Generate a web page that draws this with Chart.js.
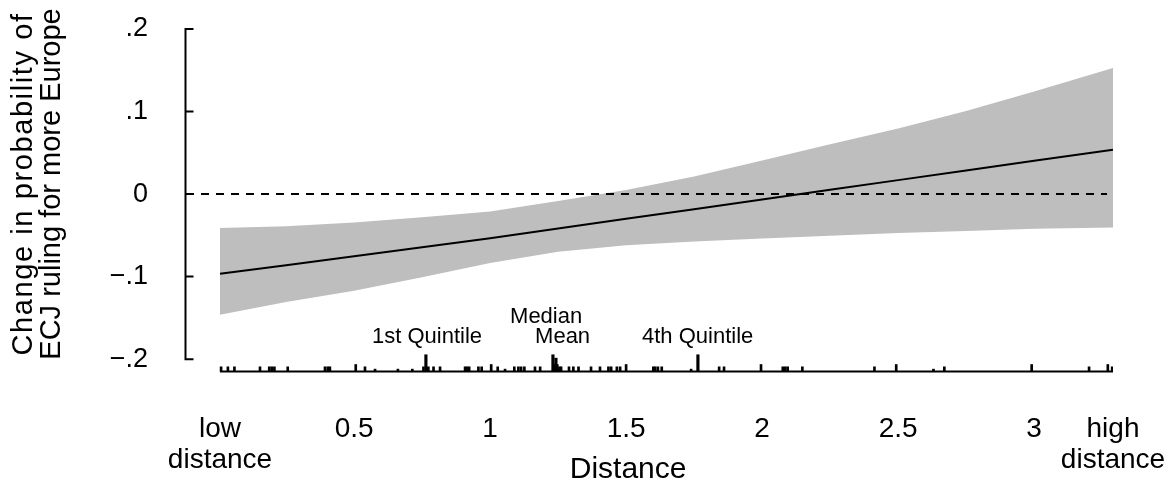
<!DOCTYPE html>
<html>
<head>
<meta charset="utf-8">
<title>Distance and ECJ rulings</title>
<script src="https://cdn.jsdelivr.net/npm/chart.js@4.4.1/dist/chart.umd.min.js"></script>
<style>
  html, body { margin: 0; padding: 0; background: #fff; }
  #wrap { width: 1169px; height: 491px; position: relative; }
</style>
</head>
<body>
<div id="wrap"><canvas id="chart"></canvas></div>
<script>
// predicted change in probability along the distance range, with 95% band
const distance = [0.007, 0.25, 0.5, 0.75, 1, 1.25, 1.5, 1.75, 2, 2.25, 2.5, 2.75, 3, 3.29];
const effect = [-0.0965, -0.0861, -0.0753, -0.0645, -0.0536, -0.0418, -0.0300, -0.0183, -0.0065, 0.0052, 0.0169, 0.0286, 0.0403, 0.0538];
const upperCI = [-0.0412, -0.0389, -0.0345, -0.0282, -0.0211, -0.0083, 0.0050, 0.0214, 0.0406, 0.0605, 0.0795, 0.1005, 0.1244, 0.1527];
const lowerCI = [-0.1462, -0.1308, -0.1171, -0.1009, -0.0836, -0.0700, -0.0620, -0.0575, -0.0537, -0.0505, -0.0472, -0.0448, -0.0420, -0.0404];

// observed distances (rug) and number of cases at each
const rugDistance = [0.011, 0.036, 0.060, 0.154, 0.188, 0.197, 0.207, 0.256, 0.393, 0.403, 0.411, 0.506, 0.540, 0.577,
  0.661, 0.714, 0.755, 0.773, 0.792, 0.816, 0.908, 0.915, 0.923, 0.957, 0.969, 1.004, 1.028, 1.055, 1.089, 1.104,
  1.114, 1.126, 1.165, 1.184, 1.236, 1.247, 1.255, 1.261, 1.290, 1.306, 1.325, 1.371, 1.404, 1.435, 1.445, 1.466,
  1.478, 1.500, 1.600, 1.607, 1.617, 1.631, 1.739, 1.842, 1.860, 1.996, 2.076, 2.085, 2.094, 2.148, 2.413, 2.493,
  2.630, 2.670, 2.991, 3.202, 3.271, 3.287];
const rugCount = [2, 2, 2, 2, 2, 2, 2, 2, 2, 2, 2, 3, 2, 1,
  1, 1, 2, 2, 2, 2, 2, 2, 2, 2, 2, 3, 2, 1, 2, 2,
  2, 2, 2, 2, 3, 3, 2, 2, 2, 2, 2, 2, 2, 2, 2, 2,
  2, 3, 2, 2, 2, 2, 1, 2, 2, 3, 2, 2, 2, 2, 2, 3,
  1, 2, 3, 2, 3, 2];

// summary statistics of distance
const statNames = ["1st Quintile", "Median", "Mean", "4th Quintile"];
const statDistance = [0.764, 1.231, 1.242, 1.764];
const statTop = [-0.1947, -0.1947, -0.1988, -0.1947];

const yTicks = [-0.2, -0.1, 0, 0.1, 0.2];
const xTicks = [0.007, 0.5, 1, 1.5, 2, 2.5, 3, 3.29];
const xTickLabels = [["low", "distance"], "0.5", "1", "1.5", "2", "2.5", "3", ["high", "distance"]];

const RUG_BASE = -0.2149;
const RUG_STEP = 0.0028;
const FONT = "'Liberation Sans', Arial, Helvetica, sans-serif";

function fmtY(v) {
  if (v === 0) return "0";
  const s = String(Math.abs(v)).replace(/^0/, "");
  return (v < 0 ? "\u2212" : "") + s;
}

// y axis with inward ticks, stat labels and axis titles
const frame = {
  id: "frame",
  afterDatasetsDraw(chart, args, opts) {
    const { ctx, chartArea, scales: { x, y } } = chart;
    ctx.save();
    ctx.strokeStyle = "#000";
    ctx.lineWidth = 2;
    const ax = chartArea.left - 0.5;
    ctx.beginPath();
    ctx.moveTo(ax, y.getPixelForValue(0.2) - 1);
    ctx.lineTo(ax, y.getPixelForValue(-0.2) + 1);
    yTicks.forEach(v => {
      const py = y.getPixelForValue(v);
      ctx.moveTo(ax, py);
      ctx.lineTo(ax + 8, py);
    });
    ctx.stroke();

    ctx.fillStyle = "#000";
    ctx.textAlign = "center";
    ctx.textBaseline = "alphabetic";
    ctx.font = "22px " + FONT;
    opts.notes.forEach(n => {
      ctx.fillText(n.text, x.getPixelForValue(n.x), y.getPixelForValue(n.y));
    });

    ctx.font = "30px " + FONT;
    ctx.fillText("Distance", x.getPixelForValue(1.5) + 2, chart.height - 13);

    ctx.font = "29px " + FONT;
    ctx.textBaseline = "middle";
    [["Change in probability of", "1.6px"], ["ECJ ruling for more Europe", "0px"]].forEach(([line, gap], i) => {
      ctx.save();
      ctx.letterSpacing = gap;
      ctx.translate(24 + i * 27.5, 184);
      ctx.rotate(-Math.PI / 2);
      ctx.fillText(line, 0, 0);
      ctx.restore();
    });
    ctx.restore();
  }
};

const ctx = document.getElementById("chart").getContext("2d");
new Chart(ctx, {
  type: "line",
  data: {
    datasets: [
      {
        label: "Effect",
        data: distance.map((d, i) => ({ x: d, y: effect[i] })),
        borderColor: "#000",
        borderWidth: 2,
        pointRadius: 0,
        tension: 0,
        fill: false
      },
      {
        label: "Zero",
        data: [{ x: -0.118, y: 0 }, { x: 3.268, y: 0 }],
        borderColor: "#000",
        borderWidth: 2,
        borderDash: [8, 7],
        pointRadius: 0,
        fill: false
      },
      {
        label: "Lower",
        data: distance.map((d, i) => ({ x: d, y: lowerCI[i] })),
        borderWidth: 0,
        borderColor: "rgba(0,0,0,0)",
        pointRadius: 0,
        tension: 0,
        fill: false
      },
      {
        label: "Upper",
        data: distance.map((d, i) => ({ x: d, y: upperCI[i] })),
        borderWidth: 0,
        borderColor: "rgba(0,0,0,0)",
        backgroundColor: "rgb(190,190,190)",
        pointRadius: 0,
        tension: 0,
        fill: "-1"
      },
      {
        label: "Rug base",
        data: [{ x: distance[0], y: RUG_BASE }, { x: distance[distance.length - 1], y: RUG_BASE }],
        borderColor: "#000",
        borderWidth: 2,
        pointRadius: 0,
        fill: false
      },
      {
        type: "bar",
        label: "Rug",
        data: rugDistance.map((d, i) => ({ x: d, y: [RUG_BASE, RUG_BASE + RUG_STEP * rugCount[i]] })),
        backgroundColor: "#000",
        borderWidth: 0,
        barThickness: 2,
        grouped: false
      },
      {
        type: "bar",
        label: "Statistics",
        data: statDistance.map((d, i) => ({ x: d, y: [RUG_BASE, statTop[i]] })),
        backgroundColor: "#000",
        borderWidth: 0,
        barThickness: 2.5,
        grouped: false
      }
    ]
  },
  options: {
    responsive: true,
    maintainAspectRatio: false,
    animation: false,
    layout: { padding: { top: 29, right: 56, bottom: 0, left: 0 } },
    plugins: {
      legend: { display: false },
      tooltip: { enabled: false },
      frame: {
        notes: [
          { text: statNames[0], x: 0.768, y: -0.181 },
          { text: statNames[1], x: 1.206, y: -0.1561 },
          { text: statNames[2], x: 1.2665, y: -0.181 },
          { text: statNames[3], x: 1.763, y: -0.181 }
        ]
      }
    },
    scales: {
      x: {
        type: "linear",
        min: -0.118,
        max: 3.29,
        offset: false,
        grid: { display: false, drawTicks: false },
        border: { display: false },
        afterBuildTicks: scale => { scale.ticks = xTicks.map(v => ({ value: v })); },
        afterFit: scale => {
          scale.height = 117;
          scale.paddingLeft = 0;
          scale.paddingRight = 0;
        },
        ticks: {
          autoSkip: false,
          maxRotation: 0,
          minRotation: 0,
          padding: 40,
          color: "#000",
          font: { family: FONT, size: 28, lineHeight: 1.1 },
          callback: (v, i) => xTickLabels[i]
        }
      },
      y: {
        min: -0.218,
        max: 0.2,
        grid: { display: false, drawTicks: false },
        border: { display: false },
        afterBuildTicks: scale => { scale.ticks = yTicks.map(v => ({ value: v })); },
        afterFit: scale => {
          scale.width = 186;
          scale.paddingTop = 0;
          scale.paddingBottom = 0;
        },
        ticks: {
          padding: 38,
          color: "#000",
          font: { family: FONT, size: 27 },
          callback: v => fmtY(v)
        }
      }
    }
  },
  plugins: [frame]
});
</script>
</body>
</html>
